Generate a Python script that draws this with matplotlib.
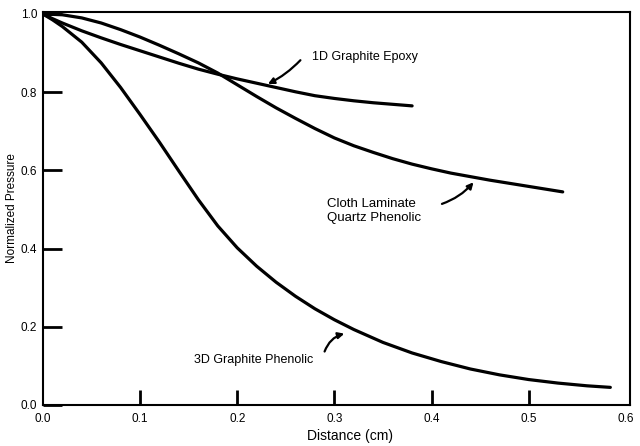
import matplotlib
matplotlib.use("Agg")
import matplotlib.pyplot as plt

plt.rcParams["font.family"] = ["Liberation Sans", "DejaVu Sans"]

# Curvas
x_3d = [0.0, 0.01, 0.02, 0.04, 0.06, 0.08, 0.10, 0.12, 0.14, 0.16, 0.18,
        0.20, 0.22, 0.24, 0.26, 0.28, 0.30, 0.32, 0.35, 0.38, 0.41, 0.44,
        0.47, 0.50, 0.53, 0.56, 0.584]
y_3d = [1.0, 0.985, 0.968, 0.928, 0.875, 0.812, 0.743, 0.672, 0.598, 0.525,
        0.458, 0.402, 0.355, 0.314, 0.278, 0.246, 0.218, 0.193, 0.160, 0.133,
        0.111, 0.092, 0.077, 0.065, 0.056, 0.049, 0.045]

x_1d = [0.0, 0.01, 0.02, 0.04, 0.06, 0.08, 0.10, 0.12, 0.14, 0.16, 0.18,
        0.20, 0.22, 0.24, 0.26, 0.28, 0.30, 0.32, 0.34, 0.36, 0.38]
y_1d = [1.0, 0.988, 0.977, 0.957, 0.939, 0.922, 0.906, 0.890, 0.874, 0.859,
        0.846, 0.834, 0.823, 0.812, 0.801, 0.791, 0.784, 0.778, 0.773, 0.769,
        0.765]

x_cloth = [0.0, 0.02, 0.04, 0.06, 0.08, 0.10, 0.12, 0.14, 0.16, 0.18, 0.20,
           0.22, 0.24, 0.26, 0.28, 0.30, 0.32, 0.34, 0.36, 0.38, 0.40, 0.42,
           0.44, 0.46, 0.48, 0.50, 0.535]
y_cloth = [1.0, 0.998, 0.990, 0.977, 0.960, 0.941, 0.920, 0.898, 0.875,
           0.849, 0.819, 0.789, 0.760, 0.733, 0.707, 0.683, 0.663, 0.646,
           0.630, 0.616, 0.604, 0.593, 0.584, 0.575, 0.567, 0.559, 0.545]

x_ticks = [0.0, 0.1, 0.2, 0.3, 0.4, 0.5, 0.6]
y_ticks = [0.0, 0.2, 0.4, 0.6, 0.8, 1.0]

fig = plt.figure(figsize=(6.4, 4.46), dpi=100)
ax = fig.add_axes([0.067, 0.092, 0.917, 0.881])

for xs, ys in [(x_3d, y_3d), (x_1d, y_1d), (x_cloth, y_cloth)]:
    ax.plot(xs, ys, color="black", lw=2.3, solid_capstyle="round",
            solid_joinstyle="round")

ax.set_xlim(0, 0.604)
ax.set_ylim(0, 1.005)
ax.set_xticks(x_ticks)
ax.set_yticks(y_ticks)
ax.set_xticklabels([f"{v:.1f}" for v in x_ticks])
ax.set_yticklabels([f"{v:.1f}" for v in y_ticks])
ax.tick_params(direction="in", width=2, labelsize=8.5)
ax.tick_params(axis="x", length=11, pad=6)
ax.tick_params(axis="y", length=14, pad=4)
# no se ven marcas en los extremos del eje x
xt = ax.xaxis.get_major_ticks()
xt[0].tick1line.set_visible(False)
xt[-1].tick1line.set_visible(False)
for s in ax.spines.values():
    s.set_linewidth(1.5)

ax.set_xlabel("Distance (cm)", fontsize=10)
ax.xaxis.set_label_coords(0.523, -0.062)
ax.set_ylabel("Normalized Pressure", fontsize=8.5)
ax.yaxis.set_label_coords(-0.042, 0.5)

arrow = dict(arrowstyle="-|>", color="black", lw=1.6, mutation_scale=9)

ax.text(0.277, 0.890, "1D Graphite Epoxy", fontsize=9, va="center", ha="left")
ax.annotate("", xy=(0.229, 0.818), xytext=(0.267, 0.887),
            arrowprops=dict(arrow, connectionstyle="arc3,rad=-0.1"))

ax.text(0.292, 0.496, "Cloth Laminate\nQuartz Phenolic", fontsize=9.5,
        va="center", ha="left", linespacing=1.15)
ax.annotate("", xy=(0.445, 0.575), xytext=(0.408, 0.512),
            arrowprops=dict(arrow, connectionstyle="arc3,rad=0.15"))

ax.text(0.156, 0.115, "3D Graphite Phenolic", fontsize=9, va="center", ha="left")
ax.annotate("", xy=(0.313, 0.184), xytext=(0.289, 0.130),
            arrowprops=dict(arrow, connectionstyle="arc3,rad=-0.3"))

fig.savefig("out.png", dpi=100)
